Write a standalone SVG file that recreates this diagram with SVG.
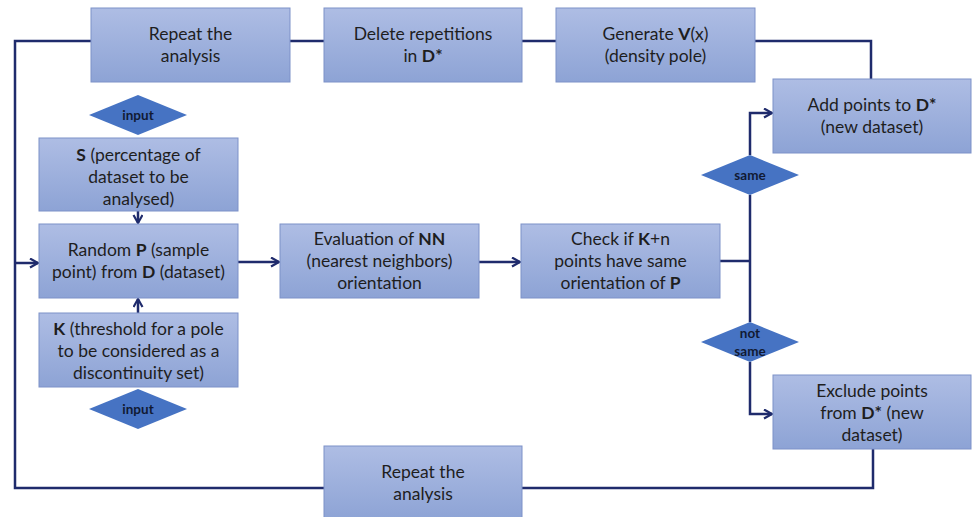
<svg xmlns="http://www.w3.org/2000/svg" width="972" height="517" viewBox="0 0 972 517">
<defs>
<linearGradient id="g" x1="0" y1="0" x2="0" y2="1">
<stop offset="0" stop-color="#aebde4"/>
<stop offset="1" stop-color="#8da3d5"/>
</linearGradient>
<marker id="ah" markerWidth="12" markerHeight="12" refX="9" refY="5" orient="auto" markerUnits="userSpaceOnUse">
<path d="M1,0.5 L9,5 L1,9.5" fill="none" stroke="#1f2b6c" stroke-width="2.2"/>
</marker>
</defs>
<style>
.box{fill:url(#g);stroke:#7d91c8;stroke-width:1}
.dia{fill:#4673c3}
.t{font-family:Lato,"Open Sans","Liberation Sans",sans-serif;font-size:17.5px;fill:#1e1e1e;text-anchor:middle}
.dt{font-family:Lato,"Open Sans","Liberation Sans",sans-serif;font-size:13.5px;font-weight:bold;fill:#111a33;text-anchor:middle}
.b{font-weight:bold}
.c{fill:none;stroke:#1f2b6c;stroke-width:2.5}
</style>
<rect width="972" height="517" fill="#fff"/>
<g id="connectors">
<path class="c" d="M91 41 H15 V488 H324"/>
<path class="c" d="M15 263 H38" marker-end="url(#ah)"/>
<path class="c" d="M290 41 H324"/>
<path class="c" d="M522 41 H556"/>
<path class="c" d="M755 41 H871 V79"/>
<path class="c" d="M138 211 V223" marker-end="url(#ah)"/>
<path class="c" d="M138 313 V299" marker-end="url(#ah)"/>
<path class="c" d="M238 262 H279" marker-end="url(#ah)"/>
<path class="c" d="M479 262 H520" marker-end="url(#ah)"/>
<path class="c" d="M720 261 H750"/>
<path class="c" d="M750 155 V113 H772" marker-end="url(#ah)"/>
<path class="c" d="M750 195 V322"/>
<path class="c" d="M750 362 V414 H772" marker-end="url(#ah)"/>
<path class="c" d="M873 449 V488 H522"/>
</g>
<g id="repeat-top">
<rect class="box" x="91" y="8" width="199" height="74"/>
<text class="t" x="190.5" y="40">Repeat the</text>
<text class="t" x="190.5" y="62">analysis</text>
</g>
<g id="delete">
<rect class="box" x="324" y="8" width="198" height="74"/>
<text class="t" x="423" y="40">Delete repetitions</text>
<text class="t" x="423" y="62">in <tspan class="b">D*</tspan></text>
</g>
<g id="generate">
<rect class="box" x="556" y="8" width="199" height="74"/>
<text class="t" x="655.5" y="40">Generate <tspan class="b">V</tspan>(x)</text>
<text class="t" x="655.5" y="62">(density pole)</text>
</g>
<g id="add">
<rect class="box" x="773" y="79" width="198" height="74"/>
<text class="t" x="872" y="111">Add points to <tspan class="b">D*</tspan></text>
<text class="t" x="872" y="133">(new dataset)</text>
</g>
<g id="input-s">
<polygon class="dia" points="138,95 187,115 138,135 89,115"/>
<text class="dt" x="138" y="120">input</text>
</g>
<g id="s-box">
<rect class="box" x="39" y="138" width="199" height="73"/>
<text class="t" x="138.5" y="161"><tspan class="b">S</tspan> (percentage of</text>
<text class="t" x="138.5" y="183">dataset to be</text>
<text class="t" x="138.5" y="205">analysed)</text>
</g>
<g id="random">
<rect class="box" x="39" y="224" width="199" height="74"/>
<text class="t" x="138.5" y="256">Random <tspan class="b">P</tspan> (sample</text>
<text class="t" x="138.5" y="278">point) from <tspan class="b">D</tspan> (dataset)</text>
</g>
<g id="k-box">
<rect class="box" x="39" y="313" width="199" height="74"/>
<text class="t" x="138.5" y="335"><tspan class="b">K</tspan> (threshold for a pole</text>
<text class="t" x="138.5" y="357">to be considered as a</text>
<text class="t" x="138.5" y="379">discontinuity set)</text>
</g>
<g id="input-k">
<polygon class="dia" points="138,389 187,409 138,429 89,409"/>
<text class="dt" x="138" y="414">input</text>
</g>
<g id="evaluation">
<rect class="box" x="280" y="224" width="199" height="74"/>
<text class="t" x="379.5" y="245">Evaluation of <tspan class="b">NN</tspan></text>
<text class="t" x="379.5" y="267">(nearest neighbors)</text>
<text class="t" x="379.5" y="289">orientation</text>
</g>
<g id="check">
<rect class="box" x="521" y="224" width="199" height="74"/>
<text class="t" x="620.5" y="245">Check if <tspan class="b">K</tspan>+n</text>
<text class="t" x="620.5" y="267">points have same</text>
<text class="t" x="620.5" y="289">orientation of <tspan class="b">P</tspan></text>
</g>
<g id="same">
<polygon class="dia" points="750,155 799,175 750,195 701,175"/>
<text class="dt" x="750" y="180">same</text>
</g>
<g id="not-same">
<polygon class="dia" points="750,322 799,342 750,362 701,342"/>
<text class="dt" x="750" y="338">not</text>
<text class="dt" x="750" y="356">same</text>
</g>
<g id="exclude">
<rect class="box" x="773" y="375" width="198" height="74"/>
<text class="t" x="872" y="397">Exclude points</text>
<text class="t" x="872" y="419">from <tspan class="b">D*</tspan> (new</text>
<text class="t" x="872" y="441">dataset)</text>
</g>
<g id="repeat-bottom">
<rect class="box" x="324" y="446" width="198" height="74"/>
<text class="t" x="423" y="478">Repeat the</text>
<text class="t" x="423" y="500">analysis</text>
</g>
</svg>
